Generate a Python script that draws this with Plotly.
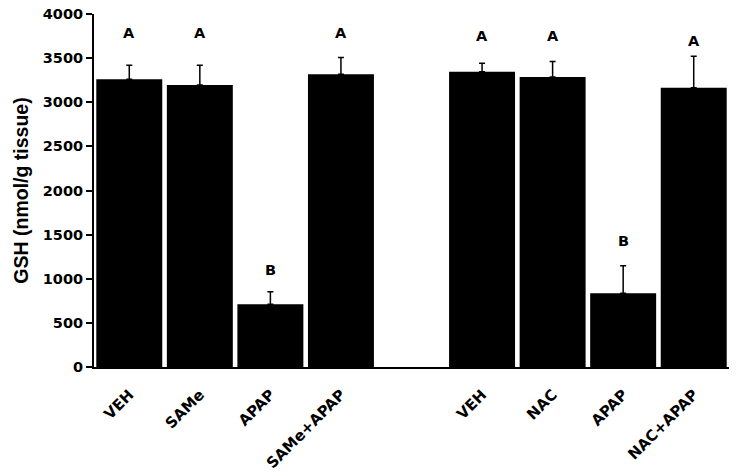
import plotly.graph_objects as go

# groupes de traitement
groupe_same = ["VEH", "SAMe", "APAP", "SAMe+APAP"]
groupe_nac = ["VEH", "NAC", "APAP", "NAC+APAP"]

# GSH (nmol/g tissue) : moyenne, écart-type, lettre de signification
gsh_same = [3260, 3195, 710, 3316]
sd_same = [160, 225, 143, 190]
lettres_same = ["A", "A", "B", "A"]
y_lettres_same = [3785, 3785, 1099, 3785]

gsh_nac = [3346, 3286, 835, 3165]
sd_nac = [95, 175, 313, 355]
lettres_nac = ["A", "A", "B", "A"]
y_lettres_nac = [3750, 3750, 1428, 3694]

# positions : une case vide entre les deux groupes
pos = list(range(len(groupe_same))) + [len(groupe_same) + 1 + i for i in range(len(groupe_nac))]
etiquettes = groupe_same + groupe_nac
valeurs = gsh_same + gsh_nac
erreurs = sd_same + sd_nac
lettres = lettres_same + lettres_nac
y_lettres = y_lettres_same + y_lettres_nac

police = "DejaVu Sans"

figure = go.Figure()
figure.add_trace(go.Bar(
    x=pos, y=valeurs,
    marker=dict(color="black", line=dict(width=0)),
    error_y=dict(type="data", symmetric=False, array=erreurs, arrayminus=[0] * len(erreurs),
                 color="black", thickness=1.5, width=3),
))

for xi, yi, txt in zip(pos, y_lettres, lettres):
    figure.add_annotation(x=xi, y=yi, text="<b>" + txt + "</b>", showarrow=False,
                          font=dict(family=police, size=14.5, color="black"))

figure.update_layout(
    width=736, height=473,
    margin=dict(l=94, r=7, t=14, b=106),
    plot_bgcolor="white", paper_bgcolor="white",
    bargap=0.065, showlegend=False,
)
figure.update_xaxes(
    range=[-0.5, len(groupe_same) + len(groupe_nac) + 0.5],
    tickmode="array", tickvals=pos, ticktext=["<b>" + e + "</b>" for e in etiquettes], tickangle=-45,
    tickfont=dict(family=police, size=15, color="black"), ticklabelstandoff=11,
    showline=True, linecolor="black", linewidth=2, ticks="", showgrid=False, zeroline=False,
    automargin=False,
)
figure.update_yaxes(
    range=[0, 4000], tickmode="array", tickvals=list(range(0, 4001, 500)),
    ticktext=["<b>" + str(v) + "</b>" for v in range(0, 4001, 500)],
    tickfont=dict(family=police, size=14.5, color="black"),
    title=dict(text="<b>GSH (nmol/g tissue)</b>", standoff=9,
               font=dict(family="Liberation Sans", size=19.5, color="black")),
    showline=True, linecolor="black", linewidth=2, ticks="outside", ticklen=6, tickwidth=2,
    tickcolor="black", showgrid=False, zeroline=False, automargin=False,
)

# pas de marge autour de la page, pas de barre d'outils
figure.write_html("out.html", config={"displayModeBar": False},
                  post_script="document.body.style.margin='0';")
